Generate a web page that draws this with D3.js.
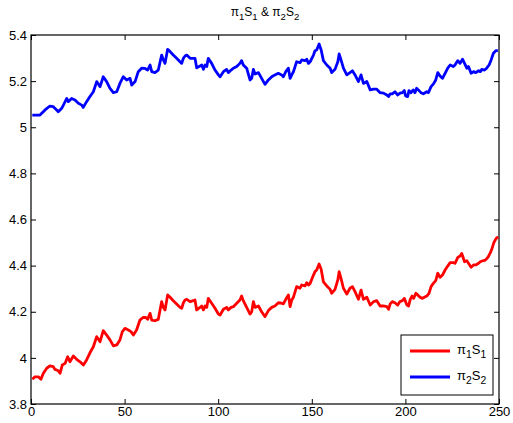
<!DOCTYPE html>
<html>
<head>
<meta charset="utf-8">
<script src="https://cdn.jsdelivr.net/npm/d3@7"></script>
<style>
  body { margin: 0; background: #fff; }
  svg { display: block; font-family: "Liberation Sans", Arial, sans-serif; }
</style>
</head>
<body>
<svg id="chart" width="513" height="423"></svg>
<script>
// axis ticks
var xTicks = [0, 50, 100, 150, 200, 250];
var yTicks = [3.8, 4, 4.2, 4.4, 4.6, 4.8, 5, 5.2, 5.4];
var yTickLabels = ["3.8", "4", "4.2", "4.4", "4.6", "4.8", "5", "5.2", "5.4"];

// pi2*S2 (blue)
var blueX = [0.7, 4.8, 7.5, 10.1, 11.9, 13.7, 14.6, 16.4, 17.3, 19.1, 19.9, 21.7, 23.5, 25.3, 27.1, 27.9, 29.7, 31.5, 33.3, 35.1, 36.9, 38.6, 40.4, 42.2, 44, 45.8, 47.5, 49.3, 51.1, 52.9, 53.8, 55.6, 57.3, 59.1, 60.9,
  62.3, 63.6, 64.5, 66.2, 68, 69.8, 70.7, 71.6, 73, 74.3, 76, 77.8, 79.6, 80.5, 81.4, 82.3, 83.2, 85, 86.7, 87.6, 88.5, 90.3, 91.2, 92.1, 93, 93.9, 94.7, 96.5, 98.3, 100.1, 101, 102.8, 104.5, 105.4, 106.9, 108.1, 109.9, 111.6, 112.5, 113.4, 115.2, 117, 117.9, 118.8, 119.7, 121.5, 123.2, 125,
  126.8, 128.6, 130.3, 132.1, 133.9, 134.8, 136.1, 137.5, 138.4, 139.3, 140.2, 141.9, 143.7, 144.6, 146.4, 147.3, 148.2, 149.1, 150.9, 151.7, 152.6, 153.9, 155, 156.2, 158, 159.8, 160.6, 162.4, 163.9, 164.6, 165.6, 166.9, 168.7, 170.4, 171.7, 173.1, 174.9, 176.3, 177.6, 179.4, 181.2, 183, 184.7, 186.5, 188.3, 190.1, 191, 191.9,
  193, 194.4, 195.9, 197.1, 198.4, 199.4, 200.1, 201.2, 201.9, 203, 204.2, 205.1, 206, 206.9, 208.3, 209.6, 211.4, 212.3, 213.7, 215, 216.2, 217.3, 218.5, 219.8, 221.2, 222.6, 223.9, 225.6, 226.5, 228, 229.2, 230.5, 231.6, 232.8, 233.7, 235.1, 236.4, 237.6, 239.1, 240, 240.8, 242.3, 243.4, 244.7, 245.8, 247, 248.3, 249.4];
var blueY = [5.053, 5.053, 5.075, 5.092, 5.089, 5.075, 5.067, 5.082, 5.096, 5.125, 5.111, 5.125, 5.118, 5.104, 5.096, 5.086, 5.111, 5.133, 5.154, 5.198, 5.176, 5.219, 5.198, 5.169, 5.15, 5.154, 5.19, 5.219, 5.205, 5.212, 5.183, 5.198, 5.241, 5.256, 5.255,
  5.248, 5.27, 5.241, 5.237, 5.248, 5.313, 5.292, 5.277, 5.338, 5.328, 5.313, 5.299, 5.284, 5.277, 5.299, 5.309, 5.313, 5.299, 5.299, 5.299, 5.258, 5.266, 5.27, 5.251, 5.27, 5.263, 5.299, 5.277, 5.248, 5.227, 5.219, 5.241, 5.251, 5.237, 5.248, 5.256, 5.263, 5.277, 5.289, 5.27, 5.256, 5.205, 5.212, 5.251, 5.231, 5.237, 5.212, 5.186,
  5.205, 5.219, 5.227, 5.234, 5.227, 5.219, 5.241, 5.256, 5.212, 5.227, 5.241, 5.284, 5.28, 5.292, 5.289, 5.295, 5.277, 5.284, 5.313, 5.332, 5.335, 5.361, 5.335, 5.289, 5.27, 5.256, 5.237, 5.251, 5.284, 5.318, 5.292, 5.256, 5.227, 5.237, 5.245, 5.227, 5.198, 5.227, 5.19, 5.198, 5.162, 5.165, 5.165, 5.15, 5.148, 5.14, 5.133, 5.145,
  5.145, 5.154, 5.14, 5.148, 5.15, 5.159, 5.136, 5.133, 5.159, 5.15, 5.162, 5.15, 5.169, 5.162, 5.15, 5.145, 5.154, 5.15, 5.176, 5.188, 5.205, 5.237, 5.222, 5.212, 5.234, 5.256, 5.27, 5.263, 5.27, 5.289, 5.277, 5.295, 5.277, 5.256, 5.263, 5.234, 5.241, 5.237, 5.245, 5.241, 5.251, 5.248, 5.256, 5.27, 5.292, 5.321, 5.332, 5.332];

// pi1*S1 (red)
var redX = [0.7, 2.1, 3.9, 5.3, 6.6, 8.4, 10.1, 11.9, 12.8, 14.6, 15.5, 16.7, 18.2, 19.6, 20.8, 22.6, 24.4, 26.2, 28, 29.7, 31.5, 33.3, 35.1, 36.9, 38.6, 40.4, 42.2, 44, 45.8, 47.5, 48.8, 50.2, 52, 53.4, 54.7, 56.4, 58.2, 60, 61.3,
  62.3, 63.6, 64.5, 66.2, 68, 69.8, 70.7, 71.6, 73, 74.3, 76, 77.8, 79.6, 80.5, 81.4, 82.3, 83.2, 85, 86.7, 87.6, 88.5, 90.3, 91.2, 92.1, 93, 93.9, 94.7, 96.5, 98.3, 100.1, 101, 102.8, 104.5, 105.4, 106.9, 108.1, 109.9, 111.6, 112.5, 113.4, 115.2, 117, 117.9, 118.8, 119.7, 121.5, 123.2, 125,
  126.8, 128.6, 130.3, 132.1, 133.9, 134.8, 136.1, 137.5, 138.4, 139.3, 140.2, 141.9, 143.7, 144.6, 146.4, 147.3, 148.2, 149.1, 150.9, 151.7, 152.6, 153.9, 155, 156.2, 158, 159.8, 160.6, 162.4, 163.9, 164.6, 165.6, 166.9, 168.7, 170.4, 171.7, 173.1, 174.9, 176.3, 177.6, 179.4, 181.2, 183, 184.7, 186.5, 188.3, 190.1, 191, 191.9,
  193, 194.4, 195.9, 197.1, 198.4, 199.4, 200.8, 201.7, 202.6, 203.5, 204.4, 205.6, 206.6, 207.8, 209.1, 210.1, 211.4, 212.6, 213.7, 214.9, 216.2, 217.3, 218.5, 219.8, 221.2, 222.6, 223.9, 225.6, 226.5, 228, 229.2, 230.1, 231.6, 232.8, 233.7, 235.1, 236.4, 237.6, 239.1, 240, 241.3, 242.7, 244.1, 245.4, 246.3, 247.2, 248.5, 249.6];
var redY = [3.907, 3.918, 3.918, 3.907, 3.933, 3.955, 3.965, 3.962, 3.95, 3.944, 3.933, 3.969, 3.976, 4.005, 3.983, 4.008, 3.994, 3.983, 3.969, 3.991, 4.022, 4.048, 4.092, 4.07, 4.118, 4.099, 4.078, 4.052, 4.056, 4.078, 4.114, 4.128, 4.121, 4.114, 4.099, 4.121, 4.164, 4.176, 4.175,
  4.167, 4.193, 4.164, 4.161, 4.167, 4.244, 4.219, 4.208, 4.273, 4.263, 4.248, 4.234, 4.219, 4.215, 4.239, 4.251, 4.254, 4.244, 4.248, 4.251, 4.208, 4.219, 4.225, 4.208, 4.225, 4.219, 4.258, 4.237, 4.215, 4.19, 4.186, 4.211, 4.219, 4.208, 4.219, 4.222, 4.237, 4.251, 4.268, 4.248, 4.219, 4.19, 4.2, 4.244, 4.219, 4.225, 4.2, 4.179,
  4.205, 4.219, 4.225, 4.239, 4.237, 4.234, 4.254, 4.273, 4.222, 4.251, 4.263, 4.309, 4.302, 4.316, 4.312, 4.326, 4.316, 4.323, 4.359, 4.374, 4.381, 4.407, 4.384, 4.33, 4.312, 4.297, 4.28, 4.297, 4.338, 4.374, 4.345, 4.302, 4.277, 4.302, 4.309, 4.287, 4.254, 4.294, 4.254, 4.263, 4.229, 4.244, 4.248, 4.225, 4.225, 4.222, 4.211, 4.234,
  4.244, 4.239, 4.229, 4.244, 4.248, 4.258, 4.229, 4.225, 4.254, 4.268, 4.258, 4.28, 4.273, 4.263, 4.258, 4.263, 4.268, 4.28, 4.309, 4.323, 4.335, 4.367, 4.349, 4.359, 4.381, 4.398, 4.413, 4.413, 4.41, 4.436, 4.442, 4.453, 4.417, 4.421, 4.41, 4.393, 4.403, 4.403, 4.41, 4.417, 4.421, 4.424, 4.436, 4.456, 4.475, 4.499, 4.518, 4.525];

var margin = {left: 31, right: 14, top: 35, bottom: 19};
var W = 513, H = 423;

var svg = d3.select("#chart");
var x = d3.scaleLinear().domain([0, 250]).range([margin.left, W - margin.right]);
var y = d3.scaleLinear().domain([3.8, 5.4]).range([H - margin.bottom, margin.top]);

// axes, ticks pointing in, on all four sides
function styleAxis(g) {
  g.select(".domain").remove();
  g.selectAll(".tick line").attr("stroke", "#000").attr("stroke-width", 1);
  g.selectAll(".tick text").attr("fill", "#000").style("font-size", "13px");
}
svg.append("g").attr("transform", "translate(0," + y(3.8) + ")")
  .call(d3.axisBottom(x).tickValues(xTicks).tickSize(-5).tickPadding(3).tickFormat(d3.format("d")))
  .call(styleAxis);
svg.append("g").attr("transform", "translate(0," + y(5.4) + ")")
  .call(d3.axisTop(x).tickValues(xTicks).tickSize(-5).tickFormat(""))
  .call(styleAxis);
svg.append("g").attr("transform", "translate(" + x(0) + ",0)")
  .call(d3.axisLeft(y).tickValues(yTicks).tickSize(-5).tickPadding(4).tickFormat(function (d, i) { return yTickLabels[i]; }))
  .call(styleAxis);
svg.append("g").attr("transform", "translate(" + x(250) + ",0)")
  .call(d3.axisRight(y).tickValues(yTicks).tickSize(-5).tickFormat(""))
  .call(styleAxis);

svg.append("rect")
  .attr("x", x(0)).attr("y", y(5.4))
  .attr("width", x(250) - x(0)).attr("height", y(3.8) - y(5.4))
  .attr("fill", "none").attr("stroke", "#000").attr("stroke-width", 1.2);

var line = d3.line().x(function (d) { return x(d[0]); }).y(function (d) { return y(d[1]); });

function series(xs, ys, color) {
  svg.append("path")
    .datum(d3.zip(xs, ys))
    .attr("d", line)
    .attr("fill", "none")
    .attr("stroke", color)
    .attr("stroke-width", 2.8)
    .attr("stroke-linejoin", "round");
}
series(blueX, blueY, "#0000ff");
series(redX, redY, "#ff0000");

// pi_k S_k with subscripts
function label(sel, k) {
  sel.append("tspan").text("\u03c0");
  sel.append("tspan").attr("dy", 4).style("font-size", "0.8em").text(k);
  sel.append("tspan").attr("dy", -4).text("S");
  sel.append("tspan").attr("dy", 4).style("font-size", "0.8em").text(k);
}

var title = svg.append("text").attr("x", (x(0) + x(250)) / 2).attr("y", 16)
  .attr("text-anchor", "middle").style("font-size", "12px");
label(title, "1");
title.append("tspan").attr("dy", -4).text(" & ");
label(title, "2");

// legend
var lg = svg.append("g");
lg.append("rect").attr("x", 401).attr("y", 335).attr("width", 92).attr("height", 60)
  .attr("fill", "#fff").attr("stroke", "#000").attr("stroke-width", 1);
[["1", "#ff0000", 351], ["2", "#0000ff", 377]].forEach(function (e) {
  lg.append("line").attr("x1", 410).attr("x2", 450).attr("y1", e[2]).attr("y2", e[2])
    .attr("stroke", e[1]).attr("stroke-width", 2.8);
  var t = lg.append("text").attr("x", 457).attr("y", e[2] + 3).style("font-size", "13px");
  label(t, e[0]);
});
</script>
</body>
</html>
